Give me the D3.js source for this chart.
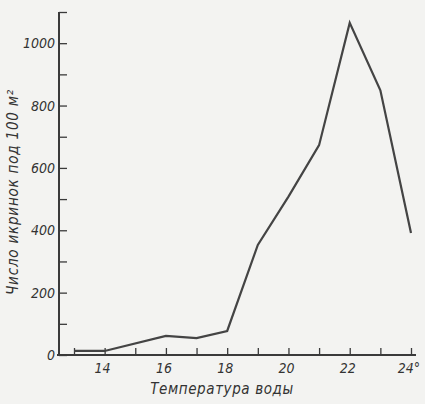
<!DOCTYPE html>
<html><head><meta charset="utf-8">
<script src="https://cdn.jsdelivr.net/npm/d3@7"></script>
<style>
html,body{margin:0;padding:0;background:#f3f3f1;}
svg{display:block;}
text{font-family:"DejaVu Sans Condensed","Liberation Sans Narrow","Liberation Sans",sans-serif;font-style:italic;fill:#333;}
</style></head>
<body>
<script>
const temps = [13, 14, 16, 17, 18, 19, 20, 21, 22, 23, 24];
const eggs = [13, 13, 61, 54, 77, 353, 508, 673, 1065, 849, 391];
const xTicks = [13, 14, 15, 16, 17, 18, 19, 20, 21, 22, 23, 24];
const xTickLabels = ["", "14", "", "16", "", "18", "", "20", "", "22", "", "24°"];
const yTicks = [0, 100, 200, 300, 400, 500, 600, 700, 800, 900, 1000, 1100];
const yTickLabels = ["0", "", "200", "", "400", "", "600", "", "800", "", "1000", ""];
const xTitle = "Температура воды";
const yTitle = "Число икринок под 100 м²";

const W = 425, H = 404;
const svg = d3.select("body").append("svg").attr("width", W).attr("height", H);
const x = d3.scaleLinear().domain([13, 24]).range([74, 411]);
const y = d3.scaleLinear().domain([0, 1100]).range([355, 12]);
const axisX = 59, axisY = 355;
const ink = "#3a3a3a";

// x axis
const gx = svg.append("g").attr("transform", `translate(0,${axisY})`);
gx.call(d3.axisTop(x).tickValues(xTicks).tickSize(7).tickFormat(""));
gx.select(".domain").remove();
gx.selectAll(".tick line").attr("stroke", ink).attr("stroke-width", 1.3);
gx.append("line").attr("x1", axisX - 2).attr("x2", 416).attr("stroke", ink).attr("stroke-width", 2);
gx.selectAll(".lbl").data(xTicks).enter().append("text")
  .attr("x", d => x(d) - 2).attr("y", 18).attr("text-anchor", "middle")
  .attr("font-size", 14).text((d, i) => xTickLabels[i]);

// y axis
const gy = svg.append("g").attr("transform", `translate(${axisX},0)`);
gy.call(d3.axisRight(y).tickValues(yTicks).tickSize(8).tickFormat(""));
gy.select(".domain").remove();
gy.selectAll(".tick line").attr("stroke", ink).attr("stroke-width", 1.3);
gy.append("line").attr("y1", y(1100)).attr("y2", axisY + 1).attr("stroke", ink).attr("stroke-width", 2);
gy.selectAll(".lbl").data(yTicks).enter().append("text")
  .attr("x", -4).attr("y", d => y(d) + 5).attr("text-anchor", "end")
  .attr("font-size", 14).text((d, i) => yTickLabels[i]);

// line
svg.append("path").datum(temps.map((t, i) => [t, eggs[i]]))
  .attr("fill", "none").attr("stroke", "#444").attr("stroke-width", 2.2)
  .attr("stroke-linejoin", "miter")
  .attr("d", d3.line().x(d => x(d[0])).y(d => y(d[1])));

// titles
svg.append("text").attr("x", 222).attr("y", 394).attr("text-anchor", "middle")
  .attr("font-size", 15).attr("letter-spacing", 0.6).text(xTitle);
svg.append("text").attr("transform", "translate(18,192) rotate(-90)")
  .attr("text-anchor", "middle").attr("font-size", 15).attr("letter-spacing", 0.8).text(yTitle);
</script>
</body></html>
